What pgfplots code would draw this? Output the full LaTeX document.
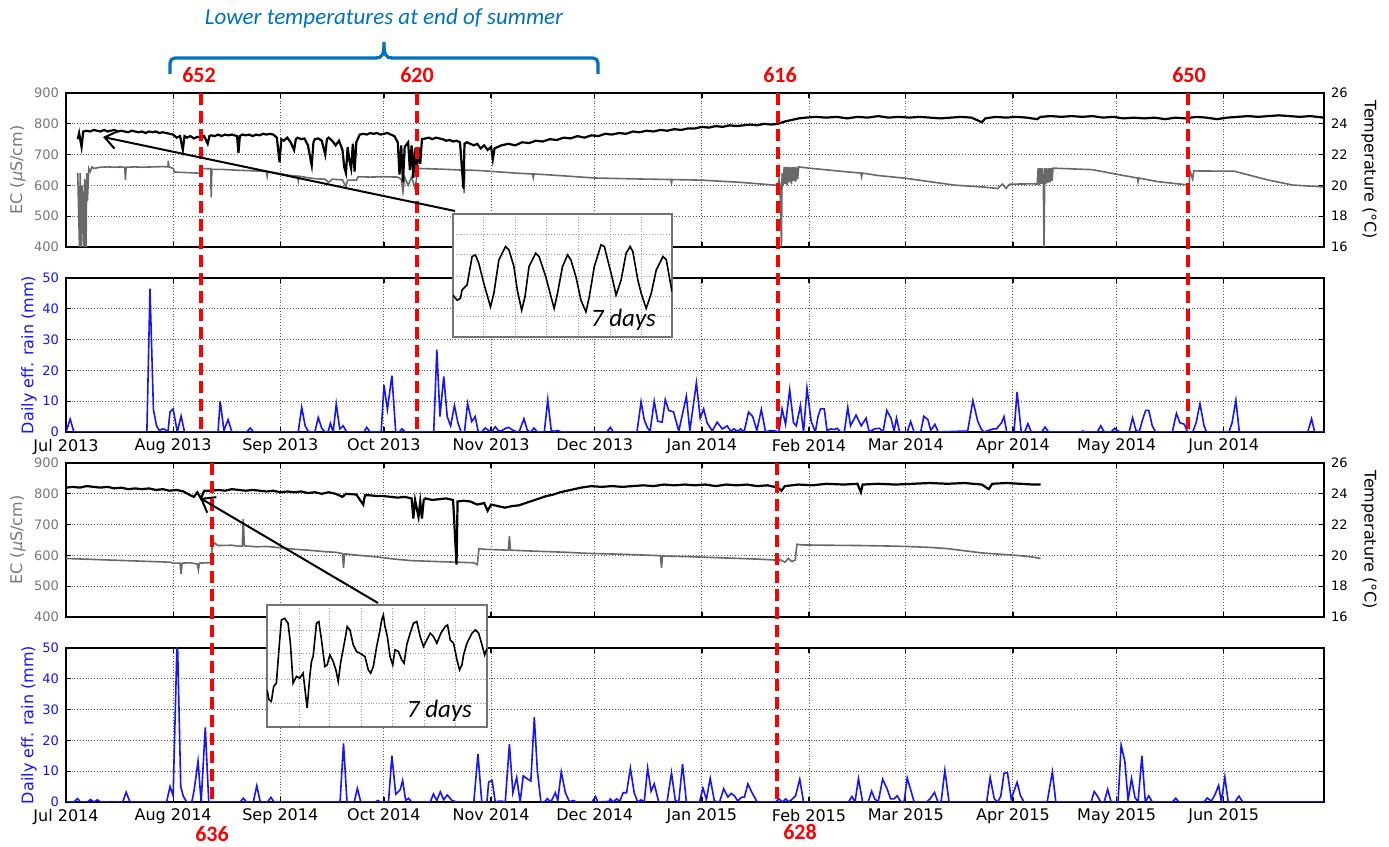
\documentclass[border=0pt]{standalone}
\usepackage{fontspec}
\setmainfont{DejaVu Sans}
\newfontfamily\calibri{Carlito}
\usepackage{pgfplots}
\pgfplotsset{compat=1.18}
\usetikzlibrary{arrows.meta}

\definecolor{ecgray}{RGB}{105,105,105}
\definecolor{labgray}{RGB}{120,120,120}
\definecolor{rainblue}{RGB}{20,20,255}
\definecolor{notered}{RGB}{255,0,0}
\definecolor{braceblue}{RGB}{0,112,192}

\pgfplotsset{
  panel/.style={scale only axis, width=629pt, height=77pt, anchor=south west,
    xmin=0, xmax=364,
    xtick={0,31,62,92,123,153,184,215,243,274,304,335},
    grid=major, grid style={densely dotted, black!65, line width=0.5pt},
    tick align=inside, major tick length=2.5pt,
    axis line style={line width=0.7pt},
    tick style={black, line width=0.6pt},
    tick label style={font=\fontsize{6.5}{7}\selectfont},
    x tick label style={font=\fontsize{8}{9}\selectfont},
    label style={font=\fontsize{8}{9}\selectfont},
    /pgf/number format/assume math mode=true},
  ecpanel/.style={panel, ymin=400, ymax=900, ytick={400,500,...,900},
    xticklabels={},
    y tick label style={text=labgray},
    ylabel={EC ({\itshape μ}S/cm)}, ylabel style={text=labgray}, ylabel shift=-2.5pt},
  rainpanel/.style={panel, ymin=0, ymax=50, ytick={0,10,...,50},
    xticklabels={Jul 2013,Aug 2013,Sep 2013,Oct 2013,Nov 2013,Dec 2013,Jan 2014,Feb 2014,Mar 2014,Apr 2014,May 2014,Jun 2014},
    y tick label style={text=rainblue},
    ylabel={Daily eff. rain (mm)}, ylabel style={text=rainblue}, ylabel shift=-4pt},
  tpanel/.style={scale only axis, width=629pt, height=77pt, anchor=south west,
    xmin=0, xmax=364, ymin=16, ymax=26, ytick={16,18,...,26},
    axis y line*=right, axis x line=none,
    tick align=inside, major tick length=2.5pt,
    axis line style={line width=0.7pt}, tick style={black, line width=0.6pt},
    y tick label style={font=\fontsize{6.5}{7}\selectfont},
    ylabel={Temperature (°C)},
    ylabel style={font=\fontsize{8}{9}\selectfont, rotate=180},
    /pgf/number format/assume math mode=true},
  inset/.style={scale only axis, anchor=south west, y dir=reverse,
    xticklabels={}, yticklabels={}, grid=major,
    grid style={densely dotted, black!40, line width=0.4pt},
    major tick length=0pt, axis line style={black!55, line width=0.6pt},
    axis background/.style={fill=white}},
  ecline/.style={ecgray, line width=0.8pt},
  tline/.style={black, line width=1.1pt},
  rline/.style={rainblue, line width=0.8pt},
}

\begin{document}
\begin{tikzpicture}
\path[use as bounding box] (0,0) rectangle (694.5pt,423.5pt);

% ---------- 2013-2014 EC / temperature ----------
\begin{axis}[ecpanel, at={(33pt,300pt)}]
\addplot[ecline] coordinates {
(3.4,640)(3.9,400)(4.1,640)(4.5,400)(4.7,600)(5.2,400)(5.4,620)(5.8,400)(6.0,640)(6.2,550)
(6.6,655)(7,645)(7.5,660)(8,655)(10,659)(12,660)(14,659)(16,660)(17,658)(17.2,617)(17.4,659)
(20,660)(22,659)(25,660)(28,661)(29.5,660)(29.6,680)(29.8,660)(31,655)(31.5,643)(34,642)
(36,641)(38,640)(39,640)(39.2,655)(41,654)(41.9,654)(42,561)(42.2,652)(45,652)(50,649)
(55,647)(58,645)(58.2,630)(58.4,645)(62,638)(65,632)(67,630)(67.2,615)(67.4,630)(70,625)
(72,622)(75,620)(76,610)(77,620)(80,618)(81,596)(81.5,617)(84,617)(84.5,628)(88,627)
(92,628)(96,627)(97,620)(97.5,580)(98,626)(99,600)(100,628)(101,590)(101.5,627)(101.9,655)
(105,654)(110,652)(114,650)(115,650)(115.2,575)(115.4,650)(120,648)(130,640)(135,637)
(135.2,625)(135.4,637)(140,634)(153,624)(165,621)(175,619)(175.2,608)(175.4,619)(184,617)
(195,610)(205,601)(206,600)(206.3,620)(206.6,600)(207,400)(207.2,640)(207.5,600)(207.8,660)
(208.1,605)(208.4,660)(208.7,600)(209,660)(209.3,610)(209.6,660)(209.9,605)(210.2,660)
(210.5,615)(210.8,660)(211.1,612)(211.4,660)(211.7,620)(212,660)(215,656)(225,645)
(230,640)(230.2,628)(230.4,640)(235,632)(243,623)(250,612)(257,601)(265,595)(269.5,590)
(271,604)(272,590)(273,604)(280,605)(281,604)(281.3,656)(281.6,600)(281.9,656)(282.2,605)
(282.5,656)(282.8,600)(283,400)(283.2,656)(283.5,605)(283.8,656)(284.1,608)(284.4,656)
(284.7,610)(285,656)(285.3,615)(285.6,656)(297,651)(305,634)
(310,624)(310.2,612)(310.4,624)(316,612)(325,601)(325.2,647)(326,620)(326.3,647)(338,646)
(348,617)(355,601)(364,595)};
\end{axis}
\begin{axis}[tpanel, at={(33pt,300pt)}]
\addplot[tline] coordinates {
(3.4,23.0)(3.8,23.4)(4.5,22.5)(5,23.5)(6,23.55)(7,23.5)(8,23.6)(9,23.55)(10,23.5)(11,23.6)
(12,23.5)(13,23.55)(14,23.6)(15,23.5)(16,23.55)(17,23.5)(18,23.45)(19,23.55)(20,23.5)
(21,23.45)(22,23.5)(23,23.4)(24,23.5)(25,23.45)(26,23.5)(27,23.4)(28,23.45)(29,23.4)
(30,23.35)(31,23.3)(32,23.1)(33,23.2)(33.8,22.3)(34.3,23.2)(35,23.1)(36,23.2)(37,23.05)
(38,23.15)(39,23.1)(40,23.2)(41,22.7)(41.5,23.2)(42,23.25)(43,23.2)(44,23.3)(45,23.2)
(46,23.3)(47,23.25)(48,23.3)(49.5,23.2)(49.9,22.1)(50.3,23.2)(51,23.3)(52,23.25)(53,23.3)
(54,23.2)(55,23.3)(56,23.25)(57,23.35)(58,23.3)(59,23.35)(60,23.3)(61,23.1)(61.8,21.5)
(62.3,23.0)(63,22.9)(64,23.1)(65,22.8)(66,22.3)(66.5,23.0)(67,23.1)(68,23.0)(69,23.05)
(70,22.6)(71.1,21.3)(71.6,22.8)(72,23.0)(73,23.05)(74,22.9)(75,22.0)(75.5,23.0)(76,23.1)
(77,22.9)(78,22.6)(79,22.9)(80,22.3)(80.5,21.2)(81,20.8)(81.5,22.5)(82,21.6)(82.5,21.1)
(83,22.7)(83.5,20.9)(84,22.8)(85,23.3)(86,23.35)(87,23.3)(88,23.4)(89,23.35)(90,23.4)
(91,23.3)(92,23.35)(93,23.4)(94,23.3)(95,23.2)(96,22.8)(96.5,20.7)(97,22.6)(97.5,20.2)
(98,22.5)(99,22.8)(99.5,21.0)(100,22.6)(100.5,20.5)(101,22.4)(101.5,20.9)(102,22.5)
(102.5,21.4)(103,23.0)(104,23.05)(105,23.1)(106,23.0)(107,23.1)(108,23.05)(109,23.0)
(110,22.9)(111,22.95)(112,22.85)(113,22.9)(114,22.8)(115,19.8)(115.3,22.7)(116,22.8)
(117,22.7)(118,22.6)(119,22.7)(120,22.4)(121,22.6)(122,22.3)(123,22.5)(123.5,21.7)
(124,22.4)(125,22.5)(126,22.6)(128,22.7)(130,22.6)(132,22.8)(134,22.75)(136,22.9)
(138,22.85)(140,23.0)(142,22.95)(144,23.1)(146,23.05)(148,23.2)(150,23.1)(152,23.25)
(154,23.2)(156,23.35)(158,23.3)(160,23.4)(162,23.35)(164,23.5)(166,23.45)(168,23.55)
(170,23.5)(172,23.6)(174,23.55)(176,23.65)(178,23.6)(180,23.7)(182,23.7)(184,23.8)
(186,23.75)(188,23.85)(190,23.8)(192,23.9)(194,23.85)(196,23.9)(198,23.95)(200,23.9)
(202,24.0)(204,23.95)(206,24.0)(208,24.15)(210,24.25)(212,24.35)(214,24.4)(217,24.45)
(220,24.4)(223,24.45)(226,24.35)(229,24.45)(232,24.4)(235,24.5)(238,24.4)(241,24.45)
(244,24.4)(247,24.45)(250,24.4)(253,24.35)(256,24.4)(259,24.45)(262,24.4)(265,24.1)
(266,24.35)(269,24.45)(272,24.4)(275,24.45)(278,24.4)(281,24.3)(282,24.45)(285,24.5)
(288,24.45)(291,24.5)(294,24.45)(297,24.5)(300,24.4)(303,24.45)(306,24.35)(309,24.4)
(312,24.35)(315,24.4)(318,24.3)(321,24.4)(324,24.35)(327,24.45)(330,24.4)(333,24.3)
(336,24.4)(339,24.45)(342,24.5)(345,24.45)(348,24.5)(351,24.55)(354,24.5)(357,24.45)
(360,24.5)(364,24.4)};
\end{axis}

% ---------- 2013-2014 rain ----------
\begin{axis}[rainpanel, at={(33pt,207.5pt)}]
\addplot[rline] coordinates {
(0,0)(1.2,4.2)(2.3,0)(23.4,0)(24.3,46.5)(25.3,7.2)(26.2,2)(27,0.5)(28,1)(28.7,0.8)(29.5,0)
(30.1,6.5)(31,7.5)(32.2,0)(33.3,5.2)(34.3,0)(44,0)(44.6,10)(45.7,0.5)(46.9,4)(48,0)(52.3,0)
(53.3,1.3)(54.3,0)(67.2,0)(68.2,8)(69.2,2)(70.2,0)(72,0)(73,4.7)(74,1.2)(75,0)(75.8,0)
(76.5,2.8)(77.3,0)(78.2,9.1)(79.2,1)(80.2,2)(81.2,0)(86.2,0)(87,1.5)(88,0)(91.2,0)(92,15.3)
(93,7.3)(94.3,18.3)(95.4,0)(96.4,0)(97.2,1)(98.2,0)(106.4,0)(107.3,26.7)(108.2,5)(109.3,18)
(110.3,5)(111.3,2)(112.4,8.6)(113.4,3)(114.3,0)(115.3,0)(116.2,9.3)(117.4,3.4)(118.4,5)
(119.3,0)(120.3,0)(121.3,1.3)(122.3,0.5)(123.2,0)(124.2,1.7)(125.2,0.3)(126.2,0.5)
(127.2,1.2)(128.1,1.5)(129.1,0.7)(130.1,0.2)(131.1,0)(132.5,4.3)(133.5,0.5)(134.5,0)
(135.4,1.3)(136.4,0)(138.4,0)(139.4,10.5)(140.4,0.5)(141.3,0.2)(142.3,0.5)(143.3,0)
(156.5,0)(157.5,1.5)(158.4,0)(165.2,0)(166.4,9.8)(167.3,4)(168.2,1.5)(169,0.2)(170.2,10)
(171.2,3.5)(172.5,3.2)(173.4,10.5)(174.4,7)(175.8,6.5)(177.3,0.3)(179.5,11.6)(180.5,0.4)
(182.4,16)(183.5,4.5)(184.5,7.5)(185.5,3)(187,0.3)(188.4,3.2)(189.9,1)(191.3,2)(192.3,0.3)
(193.3,1)(194.3,0.2)(195.2,1)(196.2,0)(197.5,6.5)(198.7,5)(199.9,0.5)(201.2,7.3)(202.4,0)
(203.9,0.5)(205.3,0.3)(206.3,0)(207.2,7.5)(208.2,2.5)(209.4,13.7)(210.5,3)(211.3,2)
(212.5,8.6)(213.4,0)(214.4,14.2)(215.6,3.5)(216.8,0)(217.6,5)(218.3,7.5)(219.4,7.5)
(220.2,0.5)(221.4,1)(222.3,0.8)(223.1,1.2)(224.1,0)(225.2,0)(226.2,8)(227,2)(228.6,5.5)
(230.1,2)(231.5,4.5)(232.4,0)(233.9,1)(235.4,1.2)(236.4,0)(237.5,7)(238.7,4.5)(239.6,0.3)
(240.3,4.5)(241.2,0)(243.4,0)(244.4,3.4)(245.4,0)(247.3,0)(248.2,5.1)(249.4,4)(250.2,0.5)
(251.4,2.5)(252.4,0)(259.9,0.3)(260.9,0.3)(262.4,10.2)(263.8,3.5)(264.8,1)(265.6,0)
(268.3,1)(269.2,1)(270.7,3)(271.4,5)(272.2,0)(274.3,0)(275.2,13)(276.4,0)(277.4,0)
(278.3,2.7)(279.3,0)(282.3,0)(283.3,1.6)(284.3,0)(293.5,0)(294.2,0.3)(295,0)(298.4,0)
(299.4,2)(300.4,0)(302.4,0)(303.4,1.2)(304.4,0.3)(305.4,0)(307.6,0)(308.6,4.6)(309.6,0.5)
(310.5,0)(311.5,4)(312.4,7)(313.3,7)(314.3,2)(315.3,0)(320.1,0)(321.3,6)(322.3,3)
(323.6,2.5)(324.5,0)(326,0)(327,3)(328.1,9.2)(329.3,2)(330,0)(336.5,0)(337.4,3)(338.5,10.3)
(339.5,0)(359.3,0)(360.4,4.3)(361.3,0)(364,0)};
\end{axis}

% ---------- 2014-2015 EC / temperature ----------
\begin{axis}[ecpanel, at={(33pt,115pt)}]
\addplot[ecline] coordinates {
(0,590)(5,588)(10,586)(15,584)(20,582)(25,580)(30,578)(31,575)(33,575)(33.3,540)(33.6,575)
(36,576)(38,572)(38.3,553)(38.6,575)(41,576)(42,577)(42.3,632)(43,640)(44,632)(48,633)
(50,630)(51,630)(51.3,718)(51.6,631)(55,628)(58,629)(62,625)(66,620)(70,617)(75,612)
(78,610)(80,606)(80.3,560)(80.6,605)(85,600)(90,595)(95,588)(100,583)(105,581)(110,579)
(113,578)(118,576)(119,570)(119.5,622)(121,620)(125,618)(128,617)(128.3,662)(128.6,617)
(135,614)(140,612)(145,610)(150,607)(153,606)(160,604)(165,602)(170,600)(172,599)
(172.3,560)(172.6,598)(180,596)(185,594)(190,592)(195,590)(200,588)(205,585)(206,575)
(206.5,587)(208,578)(209,590)(210,580)(211,585)(211.5,636)(213,634)(220,633)(230,632)
(240,630)(243,629)(250,626)(255,622)(260,615)(265,608)(270,604)(275,600)(278,597)
(280,594)(282,590)};
\end{axis}
\begin{axis}[tpanel, at={(33pt,115pt)}]
\addplot[tline] coordinates {
(0,24.4)(2,24.45)(4,24.4)(6,24.5)(8,24.45)(10,24.4)(12,24.45)(14,24.35)(16,24.4)(18,24.3)
(20,24.35)(22,24.3)(24,24.35)(26,24.25)(28,24.3)(30,24.2)(32,24.25)(34,24.15)(36,23.9)
(37,23.8)(38,24.1)(39,23.7)(40,24.2)(42,24.2)(44,24.25)(46,24.2)(48,24.3)(50,24.25)
(52,24.2)(54,24.25)(56,24.2)(58,24.15)(60,24.2)(62,24.1)(64,24.15)(66,24.1)(68,24.15)
(70,24.05)(72,24.1)(74,24.0)(76,24.1)(78,24.0)(80,23.8)(81,24.0)(84,23.95)(86,23.3)
(86.5,23.9)(88,23.9)(90,23.85)(92,23.85)(94,23.8)(96,23.75)(98,23.8)(100,23.7)(100.5,22.4)
(101,23.6)(102,22.5)(102.5,23.5)(103,22.4)(103.5,23.6)(104,23.7)(106,23.6)(108,23.65)
(110,23.7)(112,23.6)(113,19.4)(113.3,23.5)(115,23.55)(117,23.5)(119,23.3)(121,23.4)
(122,22.9)(123,23.3)(125,23.2)(127,23.1)(129,23.2)(131,23.25)(133,23.4)(135,23.55)
(137,23.7)(139,23.85)(141,23.95)(143,24.1)(145,24.2)(147,24.3)(149,24.4)(152,24.5)
(155,24.45)(158,24.5)(161,24.45)(164,24.5)(167,24.55)(170,24.5)(173,24.6)(176,24.55)
(179,24.6)(182,24.55)(185,24.6)(188,24.5)(191,24.6)(194,24.55)(197,24.6)(200,24.5)
(203,24.55)(206,24.4)(207,24.2)(208,24.5)(212,24.6)(216,24.55)(220,24.65)(225,24.6)
(229,24.65)(230,24.1)(230.5,24.6)(235,24.65)(240,24.6)(245,24.65)(250,24.7)(255,24.65)
(260,24.7)(265,24.6)(267,24.3)(268,24.65)(272,24.7)(276,24.65)(280,24.6)(282,24.6)};
\end{axis}

% ---------- 2014-2015 rain ----------
\begin{axis}[rainpanel, at={(33pt,22.5pt)},
  xticklabels={Jul 2014,Aug 2014,Sep 2014,Oct 2014,Nov 2014,Dec 2014,Jan 2015,Feb 2015,Mar 2015,Apr 2015,May 2015,Jun 2015}]
\addplot[rline] coordinates {
(0,0)(2.3,0)(3.3,1.1)(4.2,0)(6.2,0)(7.1,0.8)(8.1,0)(9.1,0.7)(10,0)(12.5,0)(13.2,0.1)(14,0)
(16.4,0)(17.4,3.2)(18.5,0)(29.1,0)(30.1,5)(31,2)(32.2,55)(33.2,5)(33.9,2)(34.9,0)(36.4,0)
(37.1,4)(38.2,13.3)(39.1,0)(40.3,24.2)(41.3,0)(50.4,0)(51.3,1.2)(52.3,0)(54.2,0)(55.2,5.3)
(56.2,0)(58.3,0)(59.3,1.5)(60.2,0)(79.3,0)(80.3,19)(81.3,0)(83.4,0)(84.3,4.4)(85.3,0)
(89.5,0)(90.2,0.5)(91,0)(93.3,0)(94.3,15)(95.4,2.5)(96.7,4)(97.4,7)(98.3,0.5)(99.1,1.2)
(100,0)(105.4,0)(106.3,2.6)(107.3,0.5)(108.3,3.3)(109.3,0.7)(110.3,2.3)(111.7,0.5)
(113.1,0)(118,0)(119.2,15.5)(120.3,0)(121.8,0)(122.3,6.5)(123.3,7)(124.2,0)(125.2,0.3)
(126.1,0.3)(127.1,0)(128.3,18.8)(129.3,3)(130.4,8)(131.4,0)(132.3,8.5)(133.5,7.5)
(134.5,6.8)(135.5,27.5)(136.4,10)(137.4,0)(138.4,0)(139.3,1.1)(140.3,0)(141.6,3)
(142.3,0.5)(143.3,9.8)(144.5,3)(145.7,0)(146.7,0.5)(147.7,0)(152.2,0)(153.2,1.8)(153.9,0)
(157.1,0.2)(157.5,1)(158.3,0)(159.3,1)(160.2,0.2)(161.2,3)(162.2,3)(163.3,11)(164.4,3)
(165.4,0)(166.4,0.7)(167.3,0)(168.3,11)(169.3,3.5)(170.2,5.9)(171.5,0)(173.9,0)(175.2,9.5)
(176.3,0.5)(177.3,0)(178.4,12.3)(179.5,0)(183.3,0)(184.3,4.5)(185.3,0.8)(186.4,7.7)
(187.6,0.3)(189.1,0)(190.3,4.3)(191.5,1.6)(192.5,2.8)(193.4,2)(194.4,0.3)(195.4,1.5)
(196.3,1.6)(197.3,5.9)(198.5,3)(200,0)(205.3,0)(206.3,1)(207.3,0)(208.2,1)(209.2,0)
(211.1,2)(212.3,7.4)(213.4,0)(226.4,0)(227.4,1.8)(228.3,0)(229.3,7.6)(230.5,0)(232.1,0)
(233.1,3.5)(234,1)(235,0)(236.3,7.4)(237.5,4.5)(238.6,1)(239.6,1)(240.5,2)(241.5,0.2)
(242.5,0)(243.4,7.8)(244.4,4)(245.4,0)(249,0)(250,1)(251.3,3.1)(252.3,0)(253.2,0)
(254.3,10.3)(255.5,0)(266.4,0)(267.4,8)(268.6,1)(269.6,0)(270.5,2)(271.4,9.3)(272.4,9.6)
(273.5,1)(275.2,6.4)(276.2,2)(277.2,0)(283.9,0)(285.4,9.8)(286.4,0)(296.6,0)(297.5,3.4)
(298.4,2)(299.4,0)(300.4,0)(301.4,4.1)(302.4,0)(304.4,0)(305.3,18.5)(306.4,13)(307.3,0.5)
(308.3,7.6)(309.3,1.5)(310.2,0)(311.3,15)(312.3,0)(313.3,2)(314.3,0)(320.1,0)(321.1,1.2)
(322,0)(329.3,0)(330.2,1.3)(331.4,0.3)(332.5,2.5)(333.5,5.4)(334.3,0)(335.3,8.1)(336.3,0)
(338.2,0)(339.4,1.9)(340.5,0)(364,0)};
\end{axis}

% ---------- event lines ----------
\begin{scope}[notered, line width=1.7pt, dash pattern=on 6pt off 3pt]
\draw (100.5pt,377pt) -- (100.5pt,207.5pt);
\draw (208.5pt,377pt) -- (208.5pt,207.5pt);
\draw (389pt,377pt) -- (389pt,207.5pt);
\draw (594pt,377pt) -- (594pt,207.5pt);
\draw (106pt,192pt) -- (106pt,22.5pt);
\draw (388.5pt,192pt) -- (388.5pt,22.5pt);
\end{scope}
\begin{scope}[every node/.style={notered, font=\calibri\bfseries\fontsize{11}{12}\selectfont}]
\node at (99.5pt,386pt) {652};
\node at (208.5pt,386pt) {620};
\node at (390pt,386pt) {616};
\node at (594.5pt,386pt) {650};
\node at (106pt,6.5pt) {636};
\node at (400pt,7.5pt) {628};
\end{scope}

% ---------- brace ----------
\draw[braceblue, line width=1.6pt, rounded corners=2.5pt]
  (85pt,386.5pt) -- (85pt,394.5pt) -- (188.5pt,394.5pt);
\draw[braceblue, line width=1.6pt]
  (188pt,394.5pt) .. controls (191pt,394.5pt) and (192pt,396pt) .. (192pt,402.5pt)
  .. controls (192pt,396pt) and (193pt,394.5pt) .. (196pt,394.5pt);
\draw[braceblue, line width=1.6pt, rounded corners=2.5pt]
  (195.5pt,394.5pt) -- (299pt,394.5pt) -- (299pt,386.5pt);
\node[braceblue, font=\calibri\itshape\fontsize{11.5}{13}\selectfont] at (192pt,414.5pt)
  {Lower temperatures at end of summer};

% ---------- arrows ----------
\draw[line width=1pt, -{Straight Barb[length=6pt,width=9pt]}] (227.5pt,318pt) -- (51.5pt,355pt);
\draw[line width=1pt, -{Straight Barb[length=6pt,width=9pt]}] (189pt,122pt) -- (100pt,174.5pt);

% ---------- insets ----------
\begin{axis}[inset, at={(226.5pt,255pt)}, width=109.5pt, height=61.5pt,
  xmin=43, xmax=697, ymin=43, ymax=410,
  xtick={135,230,322,418,512,605}, ytick={105,165,230,290,350}]
\addplot[black, line width=0.8pt] coordinates {
(43,285)(55,300)(65,295)(70,270)(85,255)(100,170)(110,165)(120,190)(135,250)(155,320)
(165,280)(180,180)(200,140)(210,150)(225,200)(235,270)(248,330)(258,290)(270,200)(290,160)
(300,170)(320,230)(345,325)(355,280)(370,200)(385,165)(395,180)(410,230)(425,300)(440,335)
(450,290)(465,200)(485,135)(495,140)(510,200)(520,240)(530,285)(545,240)(560,160)(572,140)
(580,155)(595,240)(605,280)(620,325)(635,280)(650,210)(670,170)(680,180)(697,275)};
\end{axis}
\node[anchor=base east, font=\calibri\itshape\fontsize{12.5}{14}\selectfont] at (331.5pt,260pt) {7 days};

\begin{axis}[inset, at={(133.5pt,60pt)}, width=110pt, height=61pt,
  xmin=52, xmax=710, ymin=45, ymax=412,
  xtick={148,240,335,428,522,615}, ytick={120,192,268,340}]
\addplot[black, line width=0.8pt] coordinates {
(52,300)(58,330)(65,335)(72,290)(80,280)(90,150)(95,90)(105,85)(115,100)(122,160)(130,280)
(140,260)(150,265)(160,250)(168,320)(172,355)(180,260)(185,215)(190,200)(200,100)(207,95)
(215,150)(225,230)(232,225)(240,195)(250,215)(258,240)(265,275)(272,220)(285,150)(292,110)
(300,120)(310,165)(320,185)(330,190)(345,200)(355,240)(362,250)(370,230)(380,170)(390,120)
(395,90)(400,75)(405,110)(412,140)(420,200)(428,225)(435,180)(445,185)(455,210)(462,220)
(470,165)(480,130)(490,100)(500,95)(510,140)(520,170)(530,150)(540,130)(550,140)(560,160)
(572,130)(585,110)(592,105)(600,150)(610,160)(620,210)(628,240)(635,225)(640,195)(650,160)
(665,130)(675,120)(685,130)(695,165)(703,195)(710,175)};
\end{axis}
\node[anchor=base east, font=\calibri\itshape\fontsize{12.5}{14}\selectfont] at (239.5pt,64.5pt) {7 days};

\end{tikzpicture}
\end{document}
